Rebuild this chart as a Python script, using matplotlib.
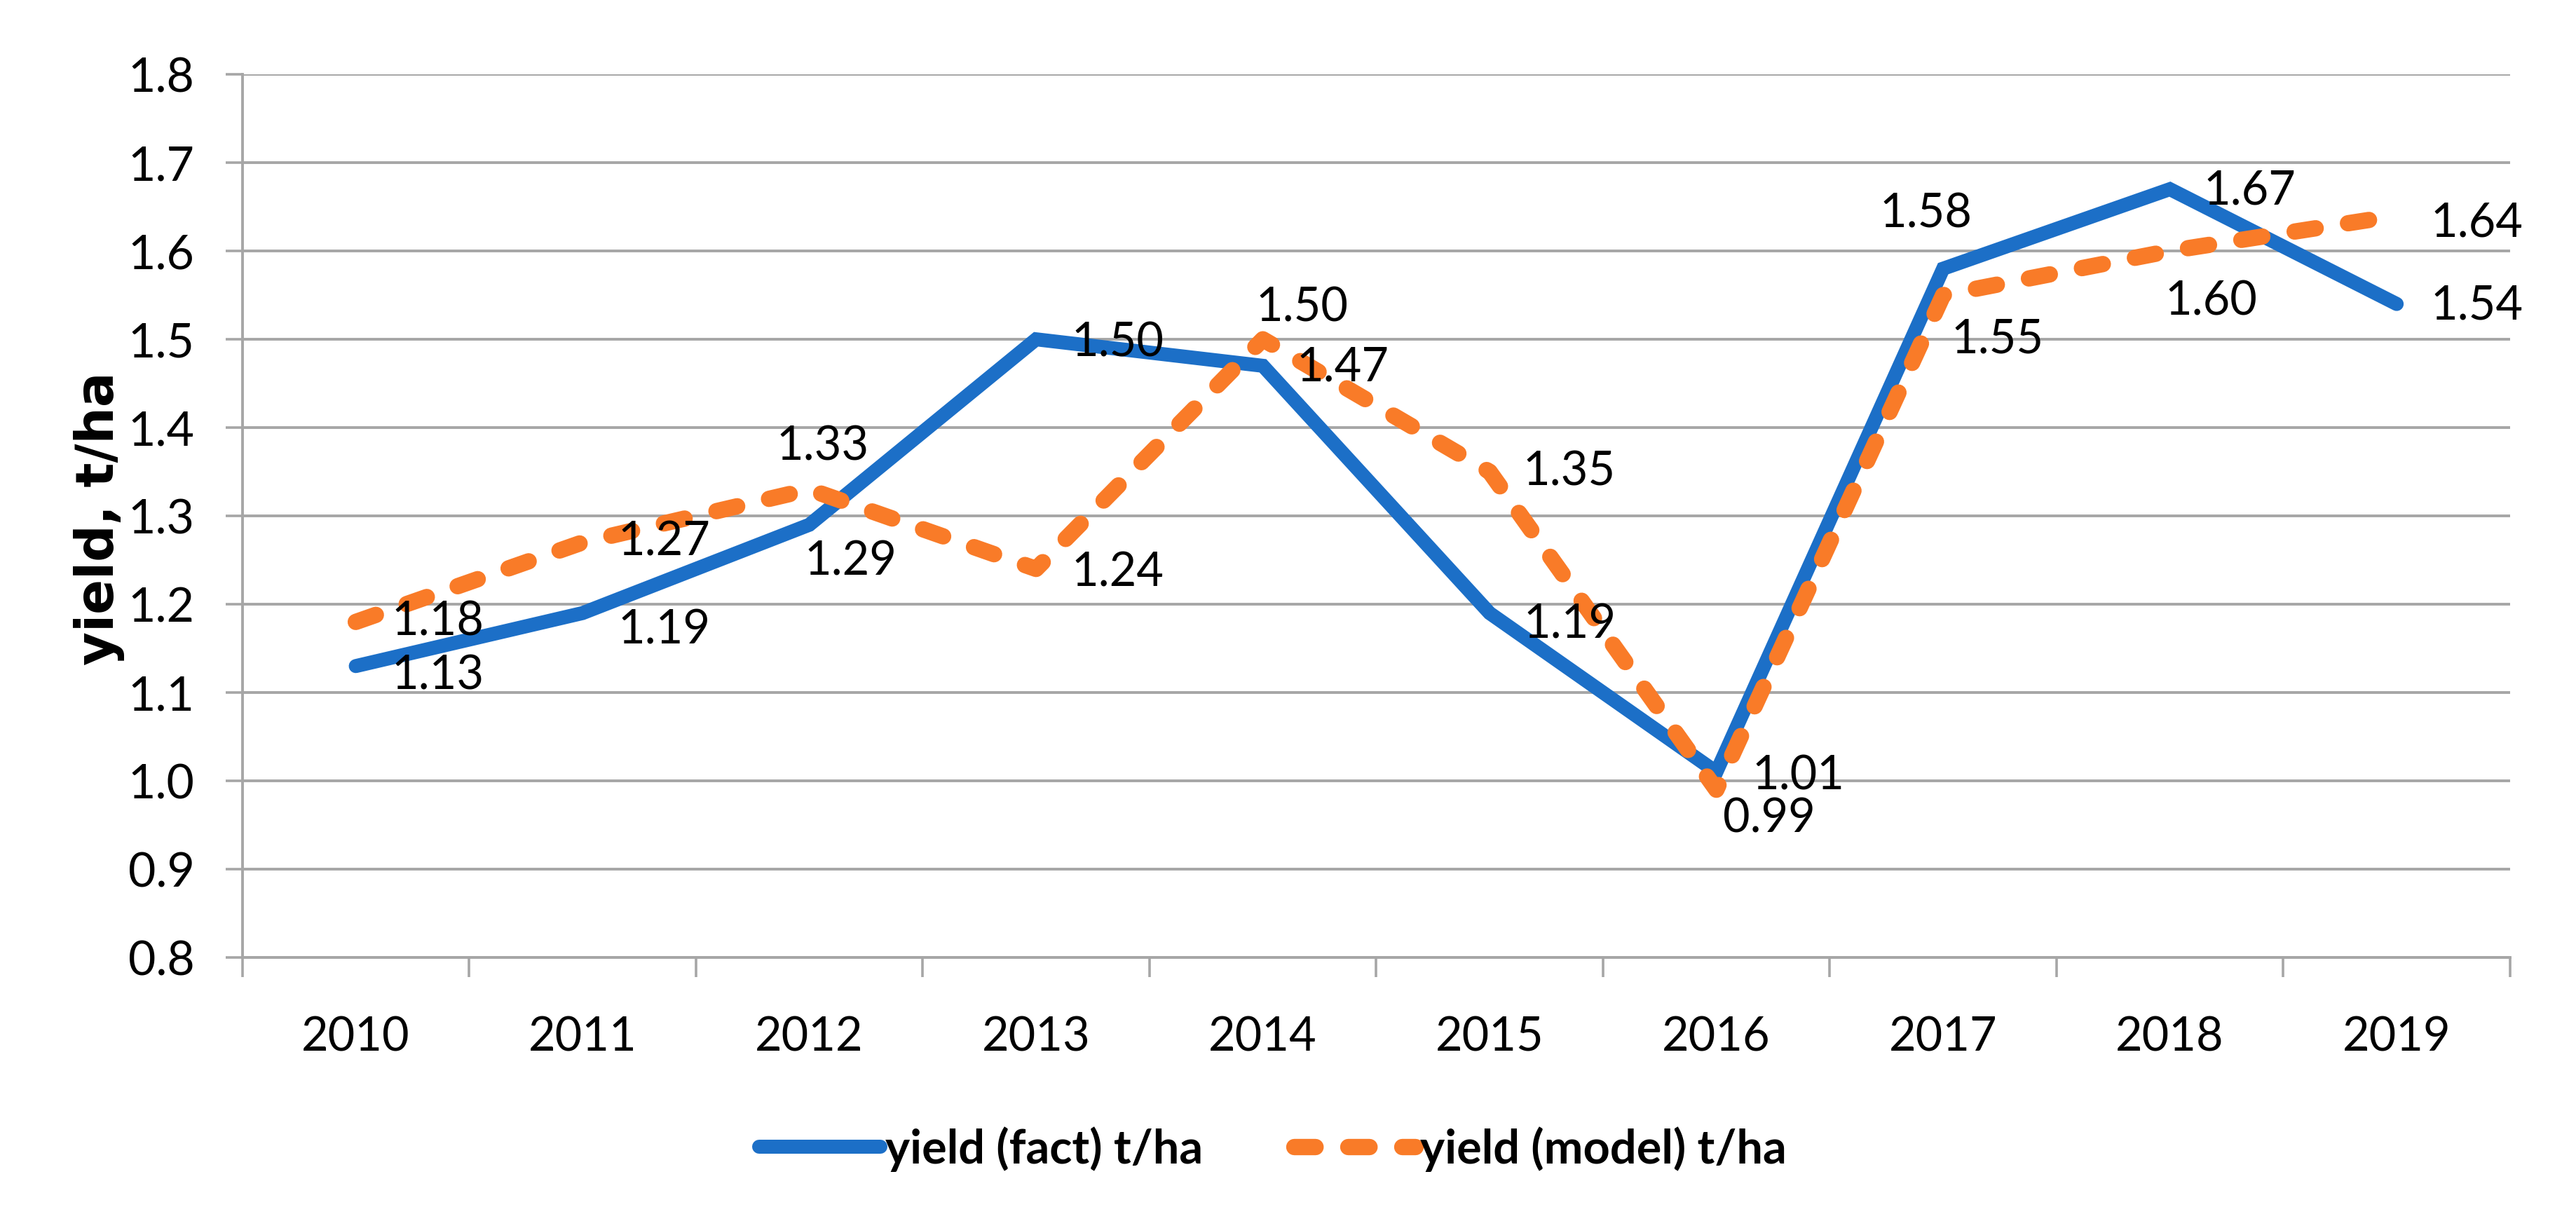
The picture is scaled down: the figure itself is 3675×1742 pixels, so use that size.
import matplotlib
matplotlib.use("Agg")
import matplotlib.pyplot as plt
import numpy as np

# Data
years = ["2010", "2011", "2012", "2013", "2014", "2015", "2016", "2017", "2018", "2019"]
yield_fact = [1.13, 1.19, 1.29, 1.50, 1.47, 1.19, 1.01, 1.58, 1.67, 1.54]
yield_model = [1.18, 1.27, 1.33, 1.24, 1.50, 1.35, 0.99, 1.55, 1.60, 1.64]
y_ticks = [0.8, 0.9, 1.0, 1.1, 1.2, 1.3, 1.4, 1.5, 1.6, 1.7, 1.8]

# label offsets (points) like the Excel data labels
fact_off = [(42, -5), (42, -9), (21, -19), (42, -2), (41, -1),
            (41, -6), (42, -2), (-9, 28), (41, -1), (41, -1)]
model_off = [(42, 0), (42, 0), (7, 22), (42, -2), (20, 16),
             (41, 0), (27, -15), (28, -23), (21, -26), (41, -4)]

font = ["Lato", "DejaVu Sans"]
blue = "#1c6fc7"
orange = "#f97b28"
grid_c = "#a6a6a6"

fig = plt.figure(figsize=(18.375, 8.71), dpi=200)
ax = fig.add_axes([0.0941, 0.2158, 0.8803, 0.7233])

x = np.arange(len(years))
ax.plot(x, yield_fact, color=blue, lw=7.2, solid_capstyle="round",
        solid_joinstyle="miter", label="yield (fact) t/ha", zorder=3)
ax.plot(x, yield_model, color=orange, lw=8.4, dashes=(1.3, 2.0),
        dash_capstyle="round", dash_joinstyle="round",
        label="yield (model) t/ha", zorder=4)

for i in range(len(years)):
    ax.annotate(f"{yield_fact[i]:.2f}", (x[i], yield_fact[i]), xytext=fact_off[i],
                textcoords="offset points", ha="center", va="center",
                fontsize=24, family=font, zorder=5)
    ax.annotate(f"{yield_model[i]:.2f}", (x[i], yield_model[i]), xytext=model_off[i],
                textcoords="offset points", ha="center", va="center",
                fontsize=24, family=font, zorder=5)

ax.set_xlim(-0.5, len(years) - 0.5)
ax.set_ylim(0.8, 1.8)
ax.set_yticks(y_ticks)
ax.set_yticklabels([f"{v:.1f}" for v in y_ticks], family=font, fontsize=24.5)
ax.set_xticks(x)
ax.set_xticklabels(years, family=font, fontsize=24)
ax.set_xticks(np.arange(-0.5, len(years)), minor=True)

ax.tick_params(axis="x", which="major", length=0, pad=30)
ax.tick_params(axis="x", which="minor", length=10, width=1.3, color=grid_c)
ax.tick_params(axis="y", length=8.6, width=1.3, color=grid_c, pad=16)

ax.grid(axis="y", color=grid_c, lw=1.4, zorder=0)
for s in ["top", "right"]:
    ax.spines[s].set_visible(False)
for s in ["left", "bottom"]:
    ax.spines[s].set_color(grid_c)
    ax.spines[s].set_linewidth(1.4)

ax.set_ylabel("yield, t/ha", fontsize=26.5, fontweight="bold", family="DejaVu Sans")
ax.yaxis.set_label_coords(-0.052, 0.497)

leg = fig.legend(loc="center", bbox_to_anchor=(0.494, 0.059), ncol=2, frameon=False,
                 handlelength=2.6, handletextpad=0.1, columnspacing=1.95,
                 prop={"family": font, "size": 24, "weight": "bold"})

fig.savefig("out.png", dpi=200, facecolor="white")
